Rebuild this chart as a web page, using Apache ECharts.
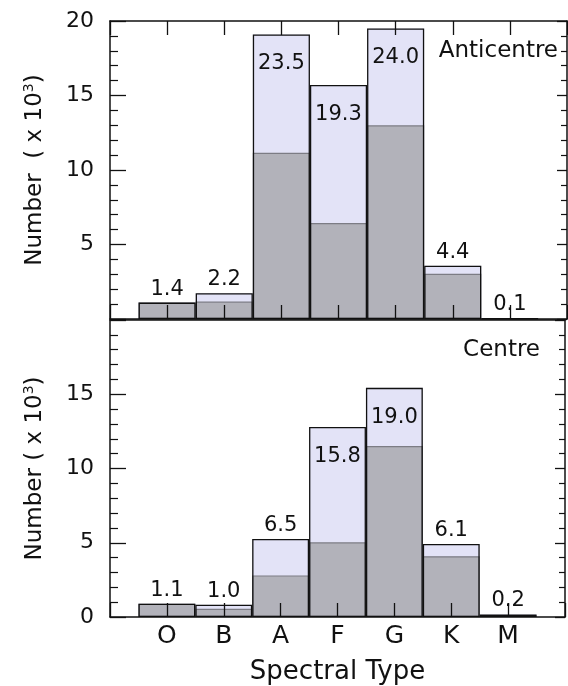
<!DOCTYPE html>
<html>
<head>
<meta charset="utf-8">
<script src="https://cdn.jsdelivr.net/npm/echarts@6/dist/echarts.min.js"></script>
<style>
html,body{margin:0;padding:0;background:#fff;}
#main{width:568px;height:686px;}
</style>
</head>
<body>
<div id="main"></div>
<script>
// ---- data ----
const categories = ['O', 'B', 'A', 'F', 'G', 'K', 'M'];
const yTicks = [0, 5, 10, 15, 20];
// Anticentre panel (top), values in units of 10^3
const antiTotal = [1.1, 1.73, 19.1, 15.7, 19.5, 3.57, 0.05];
const antiDark  = [1.1, 1.17, 11.16, 6.44, 13.0, 3.03, 0.03];
const antiLabels = ['1.4', '2.2', '23.5', '19.3', '24.0', '4.4', '0.1'];
// Centre panel (bottom)
const centTotal = [0.89, 0.82, 5.25, 12.8, 15.43, 4.92, 0.17];
const centDark  = [0.89, 0.55, 2.8, 5.03, 11.52, 4.09, 0.12];
const centLabels = ['1.1', '1.0', '6.5', '15.8', '19.0', '6.1', '0.2'];
const panelNames = ['Anticentre', 'Centre'];

// ---- build ----
const FONT = 'DejaVu Sans';
const axisCats = [''].concat(categories, ['']);
const pad = arr => [null].concat(arr, [null]);

const LEFT = 110, WIDTH = 457;
const grids = [
  {left: LEFT, top: 21, width: WIDTH, height: 298},
  {left: LEFT, top: 320, width: WIDTH, height: 298}
];
const lineStyle = {color: '#111', width: 1.5};
const xTick = {show: true, inside: true, length: 14, interval: 0, lineStyle: {color: '#111', width: 1.3}};

function xAx(gi, pos, opts) {
  return Object.assign({
    type: 'category', gridIndex: gi, position: pos, data: axisCats,
    boundaryGap: false, z: 10,
    axisLine: {show: true, onZero: false, lineStyle: lineStyle},
    axisTick: {show: false},
    axisLabel: {show: false},
    splitLine: {show: false}
  }, opts);
}
function yAx(gi, pos, opts) {
  return Object.assign({
    type: 'value', gridIndex: gi, position: pos, z: 10,
    min: yTicks[0], max: yTicks[yTicks.length - 1], interval: yTicks[1] - yTicks[0],
    axisLine: {show: true, lineStyle: lineStyle},
    splitLine: {show: false},
    minorTick: {show: true, splitNumber: 5, length: pos === 'left' ? 8 : 6, lineStyle: {color: '#111', width: 1.2}},
    axisTick: {show: true, inside: true, length: pos === 'left' ? 16 : 10, lineStyle: {color: '#111', width: 1.3}},
    axisLabel: {show: false}
  }, opts);
}
const nameRich = {
  a: {fontFamily: FONT, fontSize: 23, color: '#111', lineHeight: 26},
  s: {fontFamily: FONT, fontSize: 14, color: '#111', verticalAlign: 'top', lineHeight: 26}
};
const yLabel = {show: true, fontFamily: FONT, fontSize: 22, color: '#111', margin: 16};

const xAxes = [
  xAx(0, 'bottom', {axisTick: xTick}),
  xAx(0, 'top', {axisTick: xTick}),
  xAx(1, 'bottom', {
    axisTick: xTick,
    axisLabel: {show: true, interval: 0, fontFamily: FONT, fontSize: 25, color: '#111', margin: 7},
    name: 'Spectral Type', nameLocation: 'middle', nameGap: 42,
    nameTextStyle: {fontFamily: FONT, fontSize: 26, color: '#111'}
  }),
  xAx(1, 'top', {})
];
const yAxes = [
  yAx(0, 'left', {
    axisLabel: Object.assign({}, yLabel, {showMinLabel: false}),
    name: '{a|Number  ( x 10}{s|3}{a|)}', nameLocation: 'middle', nameGap: 62, nameRotate: 90,
    nameTextStyle: {rich: nameRich}
  }),
  yAx(0, 'right', {}),
  yAx(1, 'left', {
    axisLabel: Object.assign({}, yLabel, {showMaxLabel: false}),
    name: '{a|Number ( x 10}{s|3}{a|)}', nameLocation: 'middle', nameGap: 62, nameRotate: 90,
    nameTextStyle: {rich: nameRich}
  }),
  yAx(1, 'right', {})
];

function panelSeries(gi, total, dark, labels) {
  const xi = gi * 2, yi = gi * 2;
  const base = {type: 'bar', xAxisIndex: xi, yAxisIndex: yi, barWidth: '100%', barGap: '-100%', animation: false, silent: true};
  const outlineData = total.map((v, i) => ({
    value: v,
    label: v > 10
      ? {show: true, position: 'insideTop', distance: 19, formatter: labels[i]}
      : {show: true, position: 'top', distance: 3, formatter: labels[i]}
  }));
  return [
    Object.assign({}, base, {data: pad(total), itemStyle: {color: '#e3e3f7', borderWidth: 0}}),
    Object.assign({}, base, {data: pad(dark), itemStyle: {color: '#b2b2ba', borderColor: '#7c7c84', borderWidth: 1.2}}),
    Object.assign({}, base, {
      data: [null].concat(outlineData, [null]),
      itemStyle: {color: 'rgba(0,0,0,0)', borderColor: '#111', borderWidth: 1.3},
      label: {fontFamily: FONT, fontSize: 21, color: '#111'}
    })
  ];
}

const chart = echarts.init(document.getElementById('main'), null, {renderer: 'canvas'});
chart.setOption({
  backgroundColor: '#fff',
  animation: false,
  grid: grids,
  xAxis: xAxes,
  yAxis: yAxes,
  series: panelSeries(0, antiTotal, antiDark, antiLabels).concat(panelSeries(1, centTotal, centDark, centLabels)),
  graphic: [
    {type: 'text', right: 10, top: 40, z: 100, style: {text: panelNames[0], font: '23px "DejaVu Sans"', fill: '#111'}},
    {type: 'text', right: 28, top: 339, z: 100, style: {text: panelNames[1], font: '23px "DejaVu Sans"', fill: '#111'}}
  ]
});
</script>
</body>
</html>
